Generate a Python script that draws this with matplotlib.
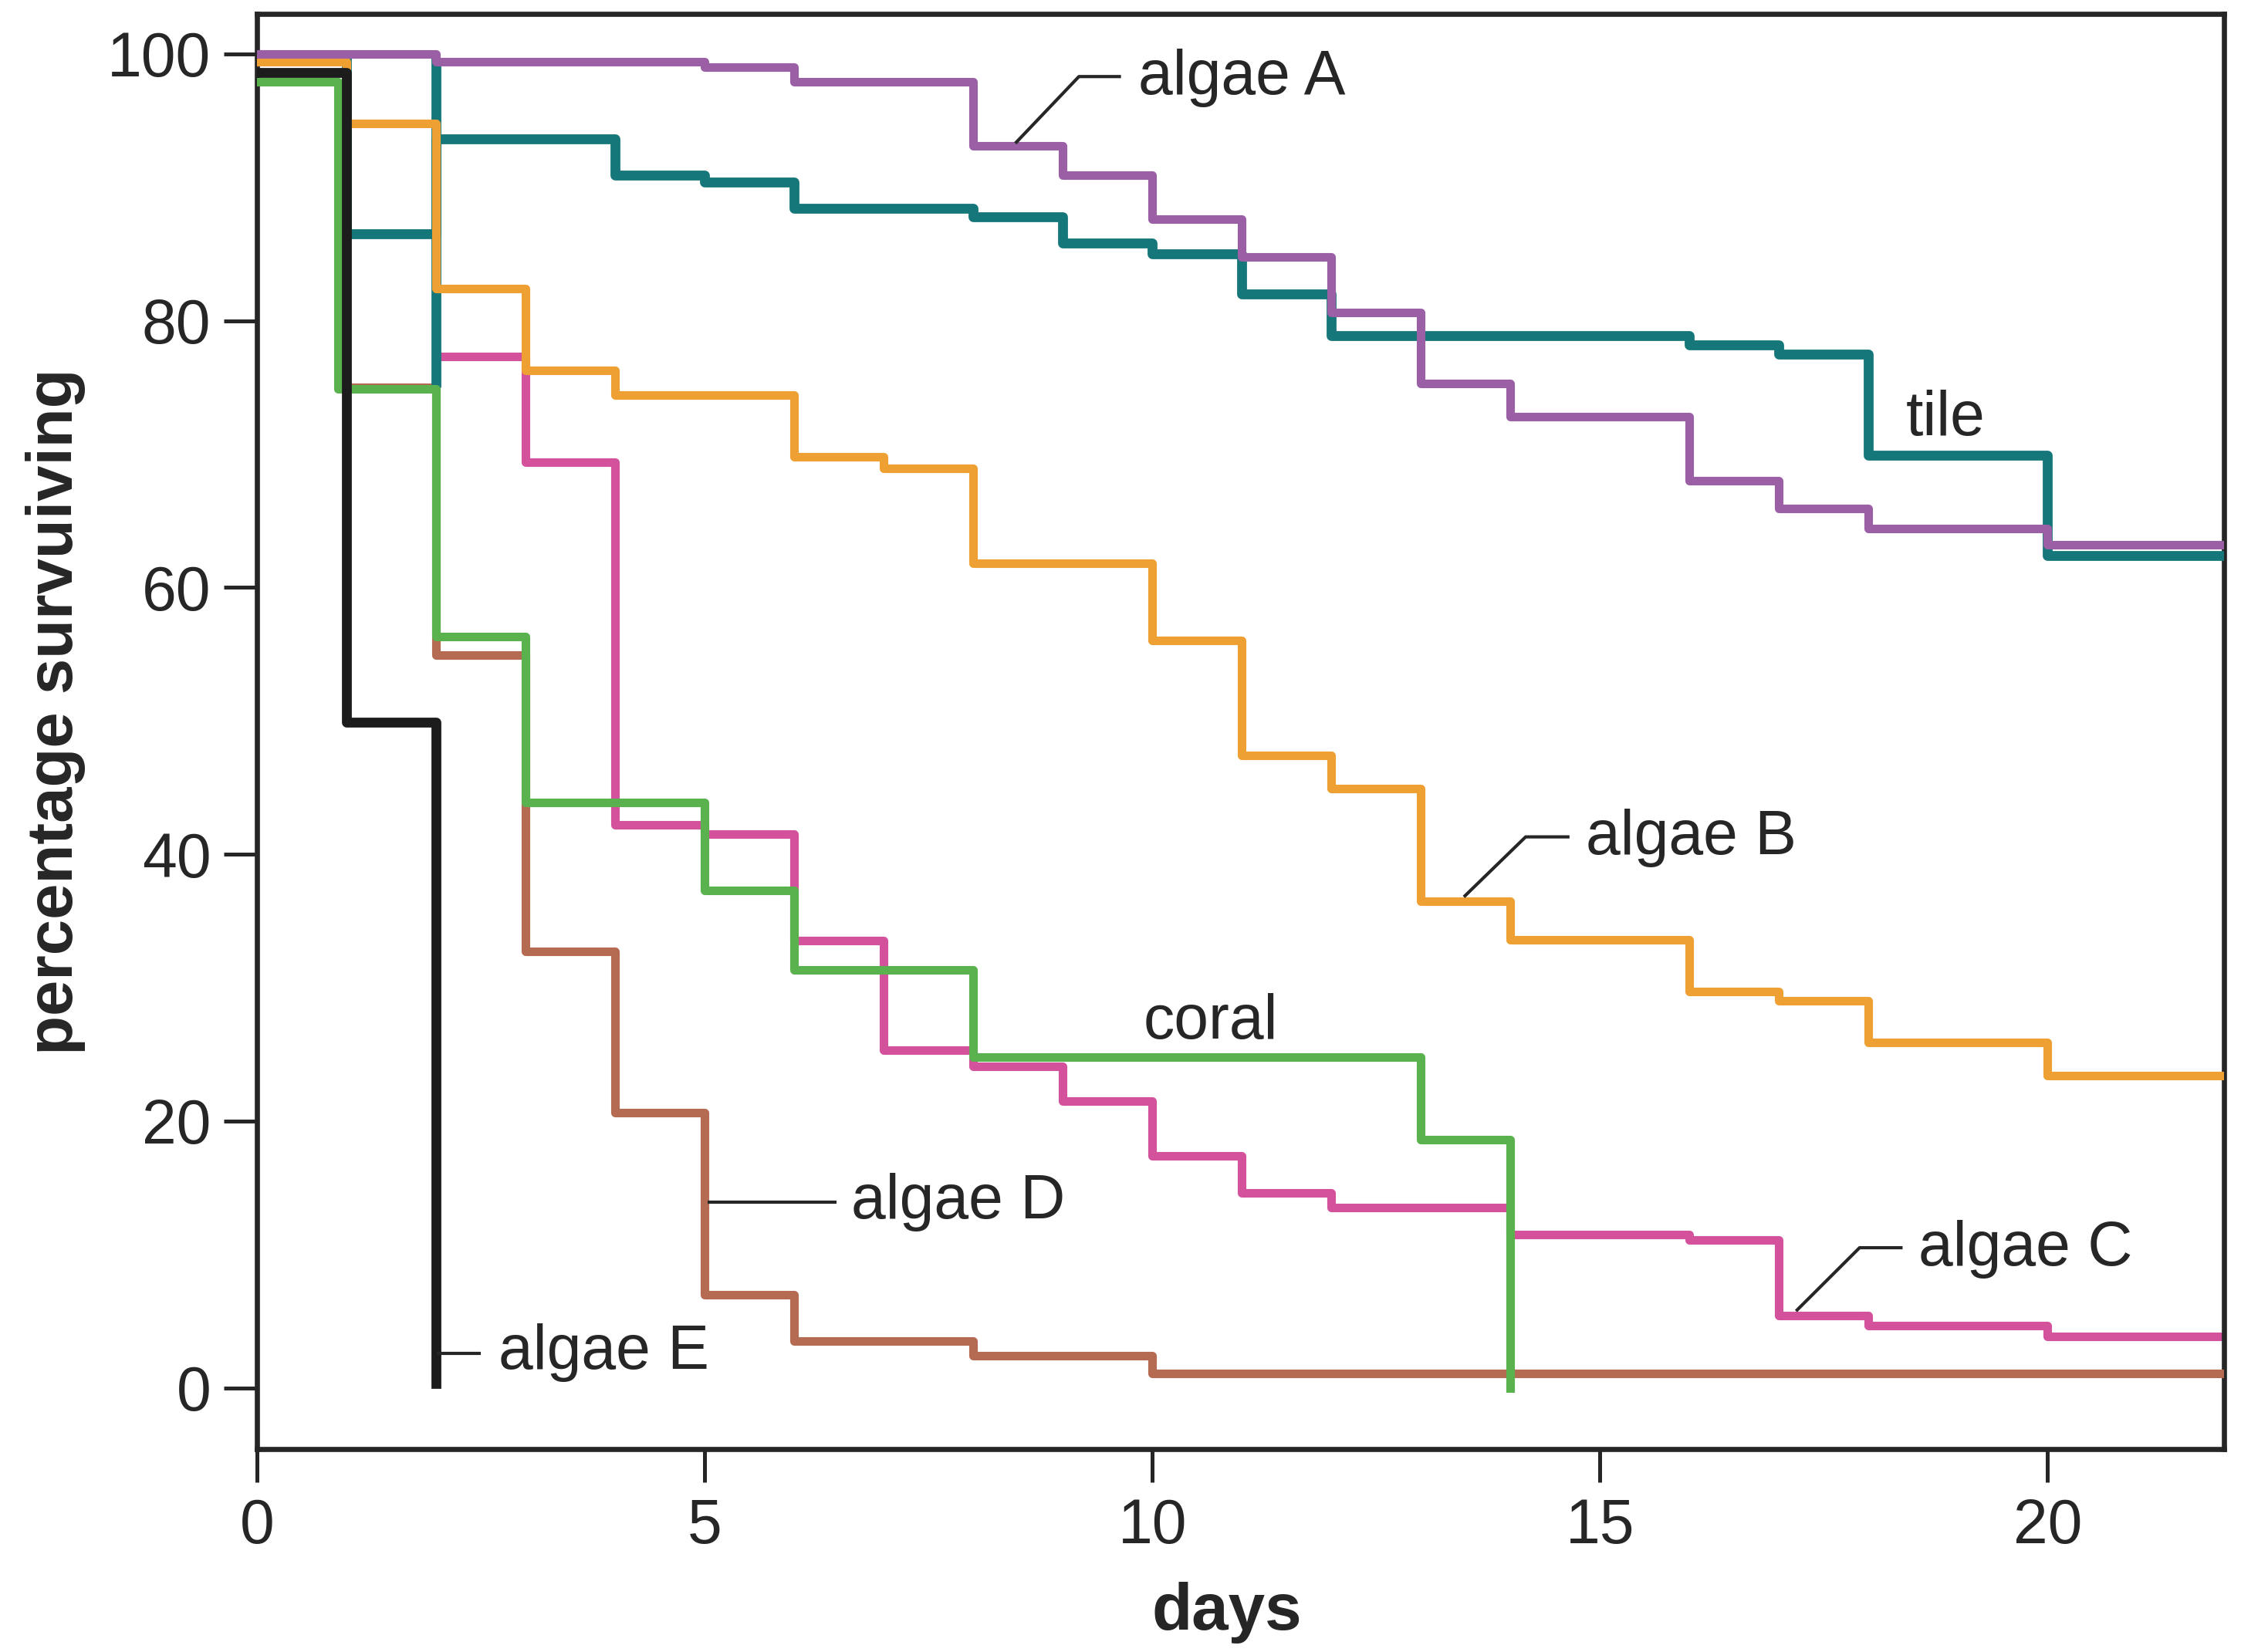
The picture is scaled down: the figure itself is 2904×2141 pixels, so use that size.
import matplotlib
matplotlib.use("Agg")
import matplotlib.pyplot as plt

# ---------------- data (days at which survival changes, % surviving) -------------
algae_A_days = [0, 2, 5, 6, 8, 9, 10, 11, 12, 13, 14, 16, 17, 18, 20, 22]
algae_A_pct = [100, 99.4, 99.0, 97.9, 93.1, 90.9, 87.6, 84.8, 80.6, 75.3, 72.8,
               68.0, 65.9, 64.4, 63.2, 63.2]

tile_days = [0, 1, 2, 4, 5, 6, 8, 9, 10, 11, 12, 16, 17, 18, 20, 22]
tile_pct = [99.7, 86.5, 93.6, 90.9, 90.4, 88.4, 87.8, 85.8, 85.0, 82.0, 78.9,
            78.2, 77.5, 69.9, 62.4, 62.4]
tile_day2_span = [75.0, 99.7]   # vertical stroke drawn at day 2 in the original

algae_B_days = [0, 1, 2, 3, 4, 6, 7, 8, 10, 11, 12, 13, 14, 16, 17, 18, 20, 22]
algae_B_pct = [99.4, 94.8, 82.4, 76.3, 74.4, 69.8, 68.9, 61.8, 56.0, 47.4, 44.9,
               36.5, 33.6, 29.7, 29.0, 25.9, 23.4, 23.4]

algae_C_days = [0, 1, 2, 3, 4, 5, 6, 7, 8, 9, 10, 11, 12, 14, 16, 17, 18, 20, 22]
algae_C_pct = [98.6, 86.5, 77.3, 69.4, 42.2, 41.5, 33.5, 25.3, 24.1, 21.5, 17.4,
               14.6, 13.5, 11.5, 11.1, 5.4, 4.65, 3.85, 3.85]

algae_D_days = [0, 1, 2, 3, 4, 5, 6, 8, 10, 22]
algae_D_pct = [98.6, 75.0, 54.9, 32.7, 20.6, 7.0, 3.5, 2.4, 1.1, 1.1]

algae_E_days = [0, 1, 2]
algae_E_pct = [98.6, 49.9, 0.3]

coral_days = [0, 0.9, 2, 3, 5, 6, 8, 13, 14]
coral_pct = [97.9, 74.9, 56.3, 43.9, 37.3, 31.3, 24.8, 18.6, 0.0]

x_ticks = [0, 5, 10, 15, 20]
y_ticks = [0, 20, 40, 60, 80, 100]

# ---------------- style ----------------
plt.rcParams['font.family'] = ['Liberation Sans', 'DejaVu Sans']
TXT = '#262626'
C_PURPLE = '#9A5FA5'
C_TEAL = '#157779'
C_ORANGE = '#EFA033'
C_MAGENTA = '#D4519B'
C_GREEN = '#5AB24F'
C_BROWN = '#B56A52'
C_BLACK = '#1c1c1c'
FS = 29
FS_BOLD = 30.8

fig = plt.figure(figsize=(14.52, 10.705), dpi=200)
ax = fig.add_axes([0.1147, 0.1228, 0.9924 - 0.1147, 0.9916 - 0.1228])

lw = 4.0
ax.plot(algae_C_days, algae_C_pct, drawstyle='steps-post', color=C_MAGENTA, lw=lw, zorder=2)
ax.plot(algae_D_days, algae_D_pct, drawstyle='steps-post', color=C_BROWN, lw=lw, zorder=3)
ax.plot(tile_days, tile_pct, drawstyle='steps-post', color=C_TEAL, lw=4.6, zorder=4)
ax.vlines(tile_days[2], tile_day2_span[0], tile_day2_span[1], color=C_TEAL, lw=4.6, zorder=4)
ax.plot(algae_B_days, algae_B_pct, drawstyle='steps-post', color=C_ORANGE, lw=lw, zorder=5)
ax.plot(algae_A_days, algae_A_pct, drawstyle='steps-post', color=C_PURPLE, lw=lw, zorder=6)
ax.plot(coral_days, coral_pct, drawstyle='steps-post', color=C_GREEN, lw=lw, zorder=7)
ax.plot(algae_E_days, algae_E_pct, drawstyle='steps-post', color=C_BLACK, lw=4.6, zorder=8)

# ---------------- labels with leader lines ----------------
llw = 1.5
def leader(xs, ys):
    ax.plot(xs, ys, color=TXT, lw=llw, zorder=9, solid_capstyle='butt')

leader([8.47, 9.18, 9.65], [93.3, 98.3, 98.3])
ax.text(9.84, 97.0, 'algae A', fontsize=FS, color=TXT, va='baseline', ha='left')

leader([13.48, 14.17, 14.66], [36.8, 41.3, 41.3])
ax.text(14.84, 40.0, 'algae B', fontsize=FS, color=TXT, va='baseline', ha='left')

leader([17.19, 17.9, 18.38], [5.75, 10.5, 10.5])
ax.text(18.56, 9.2, 'algae C', fontsize=FS, color=TXT, va='baseline', ha='left')

leader([5.03, 6.47], [13.9, 13.9])
ax.text(6.64, 12.7, 'algae D', fontsize=FS, color=TXT, va='baseline', ha='left')

leader([2.01, 2.5], [2.6, 2.6])
ax.text(2.7, 1.4, 'algae E', fontsize=FS, color=TXT, va='baseline', ha='left')

ax.text(18.42, 71.4, 'tile', fontsize=FS, color=TXT, va='baseline', ha='left')
ax.text(9.9, 26.2, 'coral', fontsize=FS, color=TXT, va='baseline', ha='left')

# ---------------- axes ----------------
ax.set_xlim(0, 21.97)
ax.set_ylim(-4.6, 103.0)
ax.set_xticks(x_ticks)
ax.set_yticks(y_ticks)
ax.tick_params(axis='both', direction='out', length=15.5, width=1.8, color=TXT,
               labelsize=FS, labelcolor=TXT)
ax.tick_params(axis='x', pad=7)
ax.tick_params(axis='y', pad=6)
for s in ax.spines.values():
    s.set_linewidth(2.4)
    s.set_color(TXT)

ax.set_xlabel('days', fontsize=FS_BOLD, fontweight='bold', color=TXT, labelpad=12)
ax.xaxis.label.set_x(0.493)
ax.set_ylabel('percentage survuiving', fontsize=30, fontweight='bold', color=TXT, labelpad=10)
ax.yaxis.label.set_y(0.514)

fig.savefig('out.png', dpi=200, facecolor='white')
